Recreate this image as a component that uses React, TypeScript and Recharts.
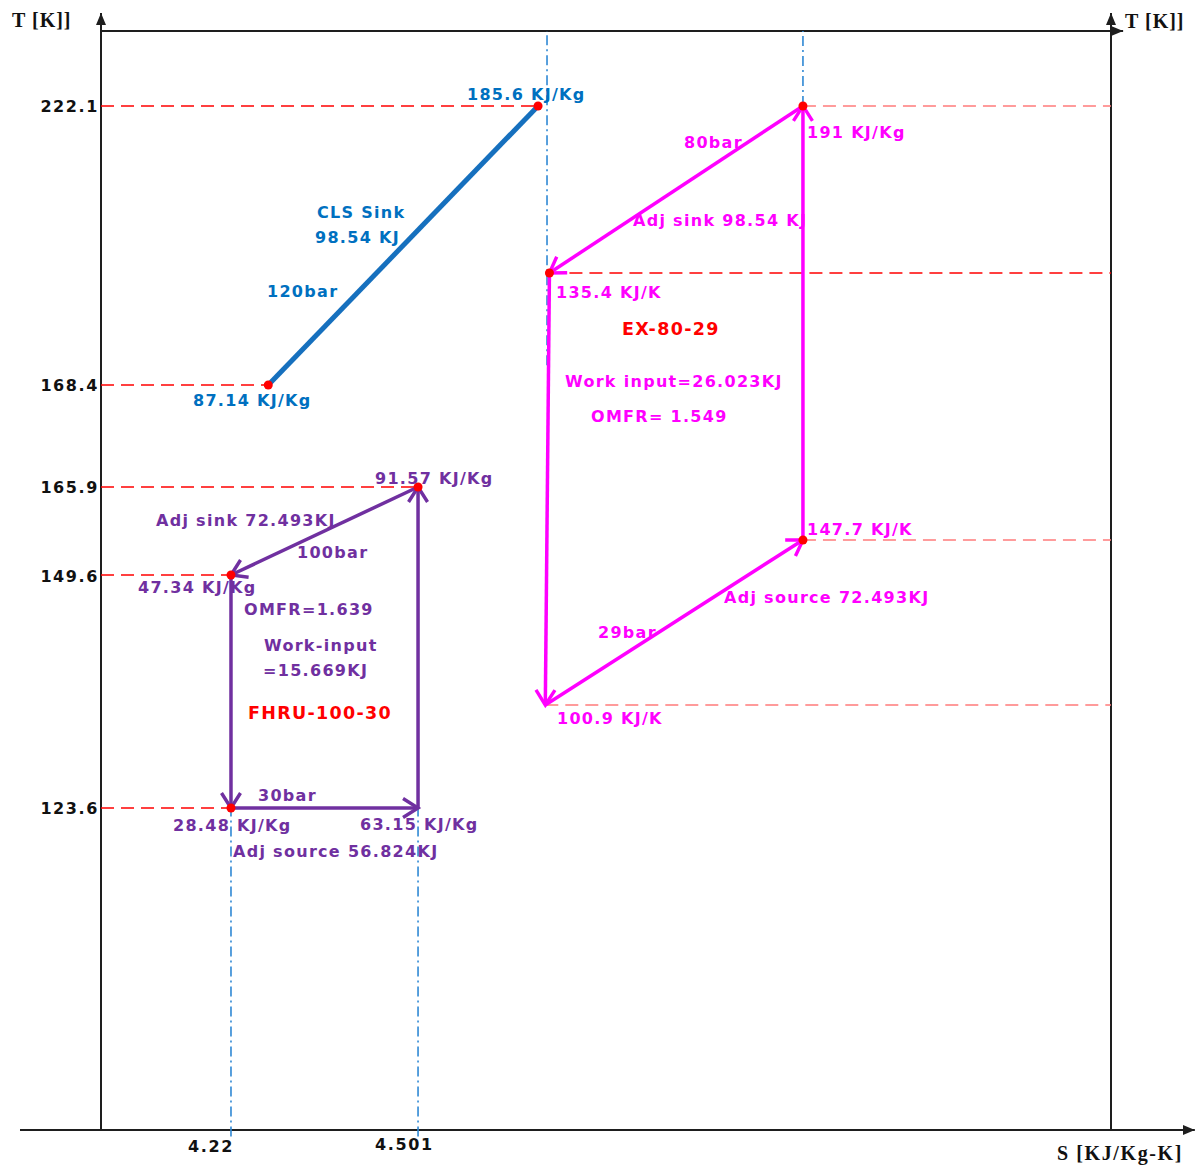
import React from 'react';
import { ComposedChart, XAxis, YAxis, Line, Scatter, ReferenceLine } from 'recharts';

// axis tick values, entropy S [KJ/Kg-K] and temperature T [K]
const S_TICKS_BOTTOM = [4.22, 4.501];
const S_TICKS_TOP = [4.803, 5.121];
const T_TICKS_LEFT = [222.1, 168.4, 165.9, 149.6, 123.6];
const T_TICKS_RIGHT = [222.1, 192.2, 163.7, 133.8];

// CLS sink line at 120 bar
const clsSink = [
    { s: 4.276, t: 168.4 },
    { s: 4.782, t: 222.1 },
];

// FHRU-100-30 cycle, listed in the direction of travel
const fhruCycle = [
    { s: 4.501, t: 165.9 },
    { s: 4.22, t: 149.6 },
    { s: 4.22, t: 123.6 },
    { s: 4.501, t: 123.6 },
];

// EX-80-29 cycle, listed in the direction of travel
const exCycle = [
    { s: 5.121, t: 222.1 },
    { s: 4.806, t: 192.2 },
    { s: 4.799, t: 133.8 },
    { s: 5.121, t: 163.7 },
];

// state points marked with a red dot
const stateDots = [clsSink[0], clsSink[1], fhruCycle[0], fhruCycle[1], fhruCycle[2], exCycle[0], exCycle[1], exCycle[3]];

const RED = '#ff0000';
const SALMON = '#ff7b7b';
const BLUE = '#0070c0';
const GUIDE_BLUE = '#2f88d4';
const PURPLE = '#7030a0';
const MAGENTA = '#ff00ff';
const INK = '#1e1e1e';

// the diagram is schematic: every tick value gets its own slot across the frame (0..1)
const S_KNOTS = [4.02, 4.22, 4.501, 4.803, 5.121, 5.5];
const S_SLOTS = [0, 0.1287, 0.3139, 0.4416, 0.695, 1];
const T_KNOTS = [92, 123.6, 133.8, 149.6, 163.7, 165.9, 168.4, 192.2, 222.1, 235.5];
const T_SLOTS = [0, 0.293, 0.3867, 0.505, 0.5369, 0.5851, 0.6779, 0.7798, 0.9318, 1];

function piecewise(v: number, knots: number[], slots: number[]) {
    let i = 0;
    while (i < knots.length - 2 && v > knots[i + 1]) i++;
    const k = (v - knots[i]) / (knots[i + 1] - knots[i]);
    return slots[i] + k * (slots[i + 1] - slots[i]);
}
const sx = (s: number) => piecewise(s, S_KNOTS, S_SLOTS);
const ty = (t: number) => piecewise(t, T_KNOTS, T_SLOTS);
const toXY = (p: { s: number; t: number }) => ({ x: sx(p.s), y: ty(p.t) });

// dashed level lines: temperature, entropy range (null = frame edge)
const levelLines = [
    { t: 222.1, from: null, to: 4.782, color: RED },
    { t: 222.1, from: 5.121, to: null, color: SALMON },
    { t: 192.2, from: 4.806, to: null, color: RED },
    { t: 168.4, from: null, to: 4.276, color: RED },
    { t: 165.9, from: null, to: 4.501, color: RED },
    { t: 163.7, from: 5.121, to: null, color: SALMON },
    { t: 149.6, from: null, to: 4.22, color: RED },
    { t: 133.8, from: 4.799, to: null, color: SALMON },
    { t: 123.6, from: null, to: 4.22, color: RED },
];

// dash-dot entropy guides: entropy, temperature range (null = frame edge)
const entropyGuides = [
    { s: 4.22, from: null, to: 123.6 },
    { s: 4.501, from: null, to: 123.6 },
    { s: 4.803, from: 172.6, to: null },
    { s: 5.121, from: 222.1, to: null },
];

// annotation text, placed in pixels inside the 1010 x 1099 frame
const FRAME = { left: 101, top: 31, width: 1010, height: 1099 };
const notes = [
    { text: '185.6 KJ/Kg', x: 467, y: 94, color: BLUE },
    { text: 'CLS Sink', x: 317, y: 212, color: BLUE },
    { text: '98.54 KJ', x: 315, y: 237, color: BLUE },
    { text: '120bar', x: 267, y: 291, color: BLUE },
    { text: '87.14 KJ/Kg', x: 193, y: 400, color: BLUE },
    { text: '80bar', x: 684, y: 142, color: MAGENTA },
    { text: '191 KJ/Kg', x: 807, y: 132, color: MAGENTA },
    { text: 'Adj sink 98.54 KJ', x: 633, y: 220, color: MAGENTA },
    { text: '135.4 KJ/K', x: 556, y: 292, color: MAGENTA },
    { text: 'EX-80-29', x: 622, y: 329, color: RED, big: true },
    { text: 'Work input=26.023KJ', x: 565, y: 381, color: MAGENTA },
    { text: 'OMFR= 1.549', x: 591, y: 416, color: MAGENTA },
    { text: '147.7 KJ/K', x: 807, y: 529, color: MAGENTA },
    { text: 'Adj source 72.493KJ', x: 724, y: 597, color: MAGENTA },
    { text: '29bar', x: 598, y: 632, color: MAGENTA },
    { text: '100.9 KJ/K', x: 557, y: 718, color: MAGENTA },
    { text: '91.57 KJ/Kg', x: 375, y: 478, color: PURPLE },
    { text: 'Adj sink 72.493KJ', x: 156, y: 520, color: PURPLE },
    { text: '100bar', x: 297, y: 552, color: PURPLE },
    { text: '47.34 KJ/Kg', x: 138, y: 587, color: PURPLE },
    { text: 'OMFR=1.639', x: 244, y: 609, color: PURPLE },
    { text: 'Work-input', x: 264, y: 645, color: PURPLE },
    { text: '=15.669KJ', x: 263, y: 670, color: PURPLE },
    { text: 'FHRU-100-30', x: 248, y: 713, color: RED, big: true },
    { text: '30bar', x: 258, y: 795, color: PURPLE },
    { text: '28.48 KJ/Kg', x: 173, y: 825, color: PURPLE },
    { text: '63.15 KJ/Kg', x: 360, y: 824, color: PURPLE },
    { text: 'Adj source 56.824KJ', x: 233, y: 851, color: PURPLE },
].map((n) => ({ ...n, x: (n.x - FRAME.left) / FRAME.width, y: 1 - (n.y - FRAME.top) / FRAME.height }));

const pairs = (pts: { s: number; t: number }[], closed: boolean) => {
    const out: { x: number; y: number }[][] = [];
    const n = closed ? pts.length : pts.length - 1;
    for (let i = 0; i < n; i++) out.push([toXY(pts[i]), toXY(pts[(i + 1) % pts.length])]);
    return out;
};

const TICK_FONT = { fontFamily: 'DejaVu Sans', fontWeight: 'bold' as const, fontSize: 16, letterSpacing: 1.6, fill: '#111' };
const NOTE_FONT = { fontFamily: 'DejaVu Sans', fontWeight: 'bold' as const, letterSpacing: 1.3 };

const nearest = (v: number, list: number[], map: (n: number) => number) => {
    let best = 0;
    list.forEach((n, i) => {
        if (Math.abs(map(n) - v) < Math.abs(map(list[best]) - v)) best = i;
    });
    return best;
};

// vertical label offsets for the entropy ticks
const BOTTOM_DROP = [16, 14];
const TOP_RAISE = [15, 9];

const BottomTick = (p: any) => {
    const i = nearest(p.payload.value, S_TICKS_BOTTOM, sx);
    return <text x={p.x - 43} y={p.y + BOTTOM_DROP[i]} textAnchor="start" dominantBaseline="central" {...TICK_FONT}>{S_TICKS_BOTTOM[i]}</text>;
};
const TopTick = (p: any) => {
    const i = nearest(p.payload.value, S_TICKS_TOP, sx);
    return <text x={p.x - 30} y={p.y - TOP_RAISE[i]} textAnchor="start" dominantBaseline="central" {...TICK_FONT}>{S_TICKS_TOP[i]}</text>;
};
const LeftTick = (p: any) => {
    const i = nearest(p.payload.value, T_TICKS_LEFT, ty);
    return <text x={p.x - 2} y={p.y + 1} textAnchor="end" dominantBaseline="central" {...TICK_FONT}>{T_TICKS_LEFT[i]}</text>;
};
const RightTick = (p: any) => {
    const i = nearest(p.payload.value, T_TICKS_RIGHT, ty);
    return <text x={p.x + 4} y={p.y + 1} textAnchor="start" dominantBaseline="central" {...TICK_FONT}>{T_TICKS_RIGHT[i]}</text>;
};

const NoteShape = (p: any) => (
    <text x={p.cx} y={p.cy} fill={p.payload.color} fontSize={p.payload.big ? 17.5 : 16} dominantBaseline="central" {...NOTE_FONT}>
        {p.payload.text}
    </text>
);

const DotShape = (p: any) => <circle cx={p.cx} cy={p.cy} r={4.5} fill={RED} />;

const TITLE_FONT = { fontFamily: 'Liberation Serif', fontWeight: 'bold' as const, fontSize: 20, letterSpacing: 1, fill: '#111' };

export default function App() {
    if (typeof document !== 'undefined') {
        document.body.style.margin = '0';
        document.body.style.overflow = 'hidden';
    }
    const dashDot = '10 4 2 4';
    return (
        <div style={{ position: 'relative', width: 1198, height: 1167, background: '#fff' }}>
            <svg width={0} height={0} style={{ position: 'absolute' }}>
                <defs>
                    <marker id="head-axis" markerUnits="userSpaceOnUse" markerWidth={14} markerHeight={12} refX={12} refY={6} orient="auto">
                        <path d="M0,1 L12,6 L0,11 Z" fill={INK} />
                    </marker>
                    <marker id="head-purple" markerUnits="userSpaceOnUse" markerWidth={26} markerHeight={26} refX={19} refY={13} orient="auto" overflow="visible">
                        <path d="M4,3.5 L19,13 L4,22.5" fill="none" stroke={PURPLE} strokeWidth={3.4} />
                    </marker>
                    <marker id="head-magenta" markerUnits="userSpaceOnUse" markerWidth={26} markerHeight={26} refX={19} refY={13} orient="auto" overflow="visible">
                        <path d="M4,3.5 L19,13 L4,22.5" fill="none" stroke={MAGENTA} strokeWidth={3.4} />
                    </marker>
                </defs>
            </svg>
            <ComposedChart width={1198} height={1167} margin={{ top: 0, right: 0, bottom: 0, left: 0 }}>
                <XAxis dataKey="x" type="number" domain={[0, 1]} ticks={S_TICKS_BOTTOM.map(sx)} interval={0}
                    height={37} axisLine={false} tickLine={false} tickSize={0} tickMargin={0} tick={BottomTick} />
                <XAxis xAxisId="top" orientation="top" type="number" domain={[0, 1]} ticks={S_TICKS_TOP.map(sx)} interval={0}
                    height={31} axisLine={false} tickLine={false} tickSize={0} tickMargin={0} tick={TopTick} />
                <YAxis dataKey="y" type="number" domain={[0, 1]} ticks={T_TICKS_LEFT.map(ty)} interval={0}
                    width={101} axisLine={false} tickLine={false} tickSize={0} tickMargin={0} tick={LeftTick} />
                <YAxis yAxisId="right" orientation="right" type="number" domain={[0, 1]} ticks={T_TICKS_RIGHT.map(ty)} interval={0}
                    width={87} axisLine={false} tickLine={false} tickSize={0} tickMargin={0} tick={RightTick} />

                {/* frame: T axes both sides, S axis below, top rule */}
                <ReferenceLine segment={[{ x: -0.0802, y: 0 }, { x: 1.083, y: 0 }]} ifOverflow="visible" stroke={INK} strokeWidth={2} markerEnd="url(#head-axis)" />
                <ReferenceLine segment={[{ x: 0, y: 0 }, { x: 0, y: 1.0164 }]} ifOverflow="visible" stroke={INK} strokeWidth={2} markerEnd="url(#head-axis)" />
                <ReferenceLine segment={[{ x: 1, y: 0 }, { x: 1, y: 1.0164 }]} ifOverflow="visible" stroke={INK} strokeWidth={2} markerEnd="url(#head-axis)" />
                <ReferenceLine segment={[{ x: 0, y: 1 }, { x: 1.012, y: 1 }]} ifOverflow="visible" stroke={INK} strokeWidth={2} markerEnd="url(#head-axis)" />

                {levelLines.map((l, i) => (
                    <ReferenceLine key={`lv${i}`} ifOverflow="visible" stroke={l.color} strokeWidth={1.6} strokeDasharray="13 7"
                        segment={[{ x: l.from == null ? 0 : sx(l.from), y: ty(l.t) }, { x: l.to == null ? 1 : sx(l.to), y: ty(l.t) }]} />
                ))}
                {entropyGuides.map((g, i) => (
                    <ReferenceLine key={`sg${i}`} ifOverflow="visible" stroke={GUIDE_BLUE} strokeWidth={1.6} strokeDasharray={dashDot}
                        segment={[{ x: sx(g.s), y: g.from == null ? -0.006 : ty(g.from) }, { x: sx(g.s), y: g.to == null ? 1 : ty(g.to) }]} />
                ))}

                {pairs(clsSink, false).map((seg, i) => (
                    <Line key={`cls${i}`} data={seg} dataKey="y" type="linear" stroke="#1670be" strokeWidth={5} dot={false} isAnimationActive={false} />
                ))}
                {pairs(fhruCycle, true).map((seg, i) => (
                    <Line key={`fh${i}`} data={seg} dataKey="y" type="linear" stroke={PURPLE} strokeWidth={3.5} dot={false}
                        markerEnd="url(#head-purple)" isAnimationActive={false} />
                ))}
                {pairs(exCycle, true).map((seg, i) => (
                    <Line key={`ex${i}`} data={seg} dataKey="y" type="linear" stroke={MAGENTA} strokeWidth={3.5} dot={false}
                        markerEnd="url(#head-magenta)" isAnimationActive={false} />
                ))}

                <Scatter data={stateDots.map(toXY)} shape={DotShape} isAnimationActive={false} />
                <Scatter data={notes} shape={NoteShape} isAnimationActive={false} />
            </ComposedChart>
            <svg width={1198} height={1167} style={{ position: 'absolute', left: 0, top: 0, pointerEvents: 'none' }}>
                <text x={12} y={20} dominantBaseline="central" {...TITLE_FONT}>T [K]]</text>
                <text x={1125} y={21} dominantBaseline="central" {...TITLE_FONT}>T [K]]</text>
                <text x={1057} y={1153} dominantBaseline="central" {...TITLE_FONT} letterSpacing={1.6}>S [KJ/Kg-K]</text>
            </svg>
        </div>
    );
}
